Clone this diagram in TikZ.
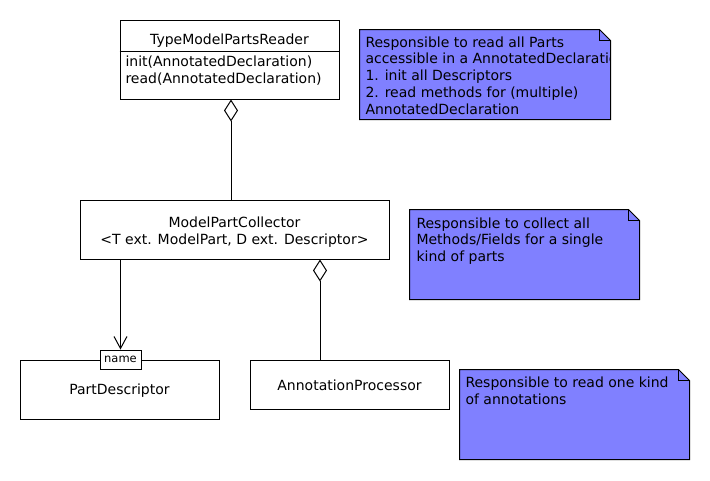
\documentclass[tikz,border=0pt]{standalone}
\usepackage{fontspec}
\setmainfont{DejaVu Sans}
\usetikzlibrary{arrows.meta,calc}
\definecolor{notefill}{HTML}{8080FF}
% outline of a note with a folded corner, around node #1
\newcommand{\dogear}[1]{%
  \filldraw[fill=notefill] (#1.north west) -- ($(#1.north east)+(-11,0)$) -- ($(#1.north east)+(0,11)$)
    -- (#1.south east) -- (#1.south west) -- cycle;
  \draw ($(#1.north east)+(-11,0)$) -- ++(0,11) -- ++(11,0);}

\begin{document}
\begin{tikzpicture}[x=1pt, y=-1pt,
  font=\fontsize{14}{16.7}\selectfont,
  line width=1pt,
  cls/.style={draw, minimum width=199pt, minimum height=59pt, inner sep=0pt, align=center},
  lbl/.style={inner sep=0pt, align=left, anchor=base west},
  note/.style={inner sep=0pt, minimum width=229pt, minimum height=89pt},
  agg/.style={-{Diamond[open, length=22pt, width=14pt]}},
  nav/.style={-{Straight Barb[length=12pt, width=13pt]}},
  ]
\useasboundingbox (0,0) rectangle (710,480);

% classes (base of a text block = base of its last line)
\path (229.5,59.5) node[cls, minimum width=219pt, minimum height=79pt](reader){};
\path (229.5,41) node(readername){TypeModelPartsReader};
\path (reader.north west) ++(0,32) [draw] coordinate(sep) -- (sep -| reader.east);
\path (125,83.5) node[lbl](readerops){init(AnnotatedDeclaration)\\read(AnnotatedDeclaration)};

\path (234.5,229.5) node[cls, minimum width=309pt](collector){};
\path (234.5,232) node[align=center](collectorname){ModelPartCollector\\\textless T ext. ModelPart, D ext. Descriptor\textgreater};
\path (119.5,389.5) node[cls](descr){};
\path (119.5,391) node(descrname){PartDescriptor};
\path (349.5,384.5) node[cls, minimum height=49pt](procs){};
\path (349.5,385.5) node(procsname){AnnotationProcessor};
\path (120.5,359.5) node[draw, fill=white, minimum width=41pt, minimum height=19pt, inner sep=0pt,
  font=\fontsize{11.5}{13}\selectfont](tag){name};

\coordinate (agg1) at (231,0);
\coordinate (agg2) at (320,0);
\draw[agg] (collector.north -| agg1) -- (reader.south -| agg1);
\draw[agg] (procs.north -| agg2) -- (collector.south -| agg2);
\draw[nav] (collector.south -| tag) -- (tag.north);

% notes
\path (485,74.5) node[note, minimum width=250pt](nreader){};
\dogear{nreader}
\begin{scope}
\clip (nreader.south west) rectangle (nreader.north east);
\path (365,114) node[lbl](nreadertext){Responsible to read all Parts\\accessible in a AnnotatedDeclaration\\1. init all Descriptors\\2. read methods for (multiple)\\AnnotatedDeclaration};
\end{scope}

\path (524.5,254.5) node[note](ncollect){};
\dogear{ncollect}
\path (416,261.5) node[lbl](ncollecttext){Responsible to collect all\\Methods/Fields for a single\\kind of parts};

\path (574.5,414.5) node[note](nprocs){};
\dogear{nprocs}
\path (465,404.5) node[lbl](nprocstext){Responsible to read one kind\\of annotations};

\end{tikzpicture}
\end{document}
